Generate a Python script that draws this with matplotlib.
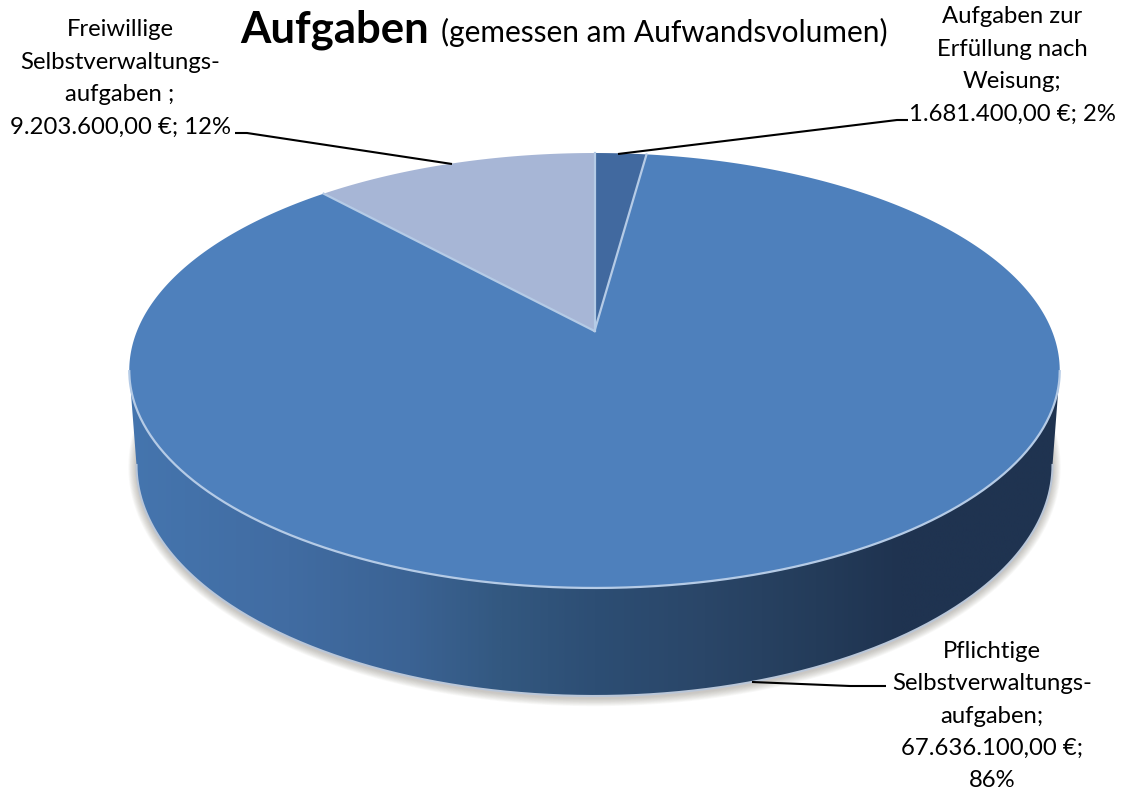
import numpy as np
import matplotlib
matplotlib.use("Agg")
import matplotlib.pyplot as plt
from matplotlib.colors import LinearSegmentedColormap
from matplotlib.patches import PathPatch
from matplotlib.path import Path

# ---- data ----
categories = ["Aufgaben zur Erfüllung nach Weisung", "Pflichtige Selbstverwaltungsaufgaben", "Freiwillige Selbstverwaltungsaufgaben"]
values = [1681400.00, 67636100.00, 9203600.00]
percent_labels = ["2%", "86%", "12%"]
label_texts = [
    "Aufgaben zur\nErfüllung nach\nWeisung;\n1.681.400,00 €; 2%",
    "Pflichtige\nSelbstverwaltungs-\naufgaben;\n67.636.100,00 €;\n86%",
    "Freiwillige\nSelbstverwaltungs-\naufgaben ;\n9.203.600,00 €; 12%",
]
title_bold = "Aufgaben"
title_rest = "(gemessen am Aufwandsvolumen)"

# ---- style ----
W, H = 1139, 792
FONT = "Lato"
plt.rcParams["font.family"] = [FONT, "DejaVu Sans"]
slice_colors = ["#41699f", "#4e80bc", "#a7b6d6"]
edge = "#b5cbe6"
wall_cmap = LinearSegmentedColormap.from_list(
    "wall",
    [(0.0, "#4575ae"), (0.17, "#416ca2"), (0.30, "#3b6394"), (0.40, "#335880"),
     (0.50, "#2d4e74"), (0.62, "#2a4668"), (0.74, "#243c5a"), (0.83, "#1f3350"), (1.0, "#1f3350")],
)

fig = plt.figure(figsize=(W / 100, H / 100), dpi=100)
ax = fig.add_axes([0, 0, 1, 1])
ax.set_xlim(0, W)
ax.set_ylim(H, 0)
ax.axis("off")

# perspective mapping of the unit disc onto the tilted top face
CX, AY = 594.5, 331
A, B, K = 457.5, 210.3, 0.1816


def project(theta):
    u, v = np.sin(theta), np.cos(theta)
    d = 1 + K * v
    return CX + A * u / d, AY - B * v / d


fractions = np.array(values) / np.sum(values)
bounds = 2 * np.pi * np.concatenate([[0], np.cumsum(fractions)])

# floor ellipse of the side wall
FCY, FA, FB = 465.0, 458.0, 231.0
t = np.linspace(0, np.pi, 300)
floor_x = CX - FA * np.cos(t)
floor_y = FCY + FB * np.sin(t)

# soft shadow under the pie
for i in range(10):
    grow = 1 + i * 0.8
    ax.fill(CX + (FA + grow) * np.cos(2 * t), FCY + 2 + (FB + grow) * np.sin(2 * t),
            color="#6b6558", alpha=0.04, lw=0, zorder=1)

# side wall: gradient clipped to the outline
rim = np.linspace(0, 2 * np.pi, 720)
rx, ry = project(rim)
i_r = np.argmax(rx)
i_l = np.argmin(rx)
front = np.arange(i_r, i_l + 1)
wall_x = np.concatenate([rx[front], floor_x, rx[front][:1], floor_x[-1:]])
wall_y = np.concatenate([ry[front], floor_y, ry[front][:1], floor_y[-1:]])
wall_path = Path(np.column_stack([wall_x, wall_y]))
grad = np.linspace(0, 1, 500).reshape(1, -1)
im = ax.imshow(grad, cmap=wall_cmap, extent=(rx.min(), rx.max(), 700, 360),
               aspect="auto", zorder=2, interpolation="bilinear")
clip = PathPatch(wall_path, transform=ax.transData, fc="none", ec="none")
ax.add_patch(clip)
im.set_clip_path(clip)
ax.set_xlim(0, W)
ax.set_ylim(H, 0)
ax.plot(floor_x, floor_y, color="#b9c6d8", lw=1.5, zorder=3)

# top face
for i, color in enumerate(slice_colors):
    th = np.linspace(bounds[i], bounds[i + 1], 500)
    x, y = project(th)
    ax.fill(np.r_[CX, x], np.r_[AY, y], color=color, lw=0, zorder=4)
ax.plot(rx[front], ry[front], color=edge, lw=1.6, zorder=5)
for b in bounds[:-1]:
    x, y = project(b)
    ax.plot([CX, x], [AY, y], color=edge, lw=1.6, zorder=5)

# leader lines
leaders = [
    [(618, 154), (897, 120), (908, 120)],
    [(752, 682), (850, 686), (886, 686)],
    [(452, 164), (247, 133), (235, 133)],
]
for pts in leaders:
    ax.plot(*zip(*pts), color="black", lw=1.5, zorder=6, solid_capstyle="butt")

# labels: centre x, first baseline y, baseline step
FS = 17.2
placements = [(1012, 23, 32.6), (992, 658, 32.3), (120, 36, 32.7)]
for text, (x, y0, step) in zip(label_texts, placements):
    for n, line in enumerate(text.split("\n")):
        ax.text(x, y0 + n * step, line, ha="center", va="baseline", fontsize=FS, color="black", zorder=7)

# title
ax.text(240, 42, title_bold, fontsize=31.5, fontweight="bold", ha="left", va="baseline", color="black")
ax.text(441, 42, title_rest, fontsize=21.55, ha="left", va="baseline", color="black")

fig.savefig("out.png", dpi=100)
